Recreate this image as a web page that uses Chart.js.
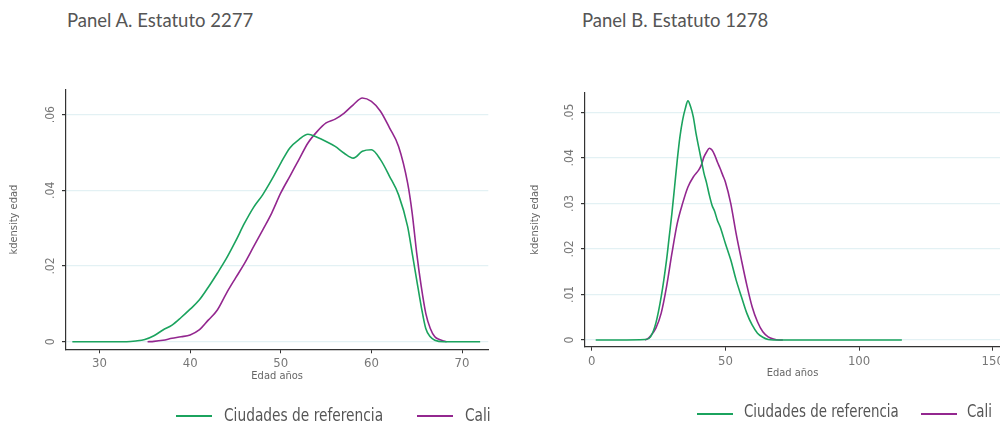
<!DOCTYPE html>
<html>
<head>
<meta charset="utf-8">
<script src="https://cdn.jsdelivr.net/npm/chart.js@4/dist/chart.umd.min.js"></script>
<style>
  body { margin: 0; background: #fff; }
  #wrap { position: relative; width: 1000px; height: 423px; overflow: hidden; }
  .cv { position: absolute; top: 0; }
  .title { position: absolute; top: 9px; font: 18.5px Lato, 'Noto Sans', sans-serif; color: #555; white-space: nowrap; }
  .leg-line { position: absolute; height: 2px; }
  .leg-text { position: absolute; font-family: 'Liberation Sans Narrow', 'DejaVu Sans Condensed', Roboto, sans-serif; color: #555; white-space: nowrap; line-height: 1; transform-origin: 0 0; }
</style>
</head>
<body>
<div id="wrap">
  <div class="title" style="left:67px">Panel A. Estatuto 2277</div>
  <div class="title" style="left:582px">Panel B. Estatuto 1278</div>
  <canvas id="chartA" class="cv" width="500" height="423" style="left:0"></canvas>
  <canvas id="chartB" class="cv" width="500" height="423" style="left:500px"></canvas>

  <div class="leg-line" style="left:176px;top:415px;width:36px;background:#1ba35e"></div>
  <div class="leg-text" style="left:224px;top:406px;font-size:18px;transform:scaleX(0.85)">Ciudades de referencia</div>
  <div class="leg-line" style="left:417px;top:415px;width:36px;background:#93278f"></div>
  <div class="leg-text" style="left:465px;top:406px;font-size:18px;transform:scaleX(0.85)">Cali</div>

  <div class="leg-line" style="left:697px;top:413px;width:36px;background:#1ba35e"></div>
  <div class="leg-text" style="left:744px;top:403px;font-size:17.5px;transform:scaleX(0.85)">Ciudades de referencia</div>
  <div class="leg-line" style="left:921px;top:413px;width:36px;background:#93278f"></div>
  <div class="leg-text" style="left:967px;top:403px;font-size:17.5px;transform:scaleX(0.85)">Cali</div>
</div>
<script>
// --- Data ---
const seriesNames = ['Ciudades de referencia', 'Cali'];

// Panel A. Estatuto 2277
const ageA_ref = [27, 29, 31, 33, 34, 35, 36, 37, 38, 39, 40, 41, 42, 43, 44, 45, 46, 47, 48, 49, 50,
  51, 52, 53, 54, 55, 56, 57, 58, 59, 60, 61, 62, 63, 64, 64.5, 65, 65.5, 66, 66.5, 67, 68, 70, 72];
const denA_ref = [0, 0, 0, 0, 0.0002, 0.0006, 0.0016, 0.0031, 0.0044, 0.0064, 0.0086, 0.011, 0.0144, 0.0181,
  0.022, 0.0265, 0.0313, 0.0355, 0.0388, 0.0428, 0.0472, 0.0512, 0.0534, 0.0548, 0.054, 0.0529, 0.0516,
  0.0498, 0.0485, 0.0503, 0.0507, 0.0481, 0.0437, 0.0388, 0.0304, 0.0234, 0.0163, 0.0093, 0.0035, 0.0013,
  0.0004, 0, 0, 0];
const ageA_cali = [35.3, 36, 37, 38, 39, 40, 41, 42, 43, 44, 45, 46, 47, 48, 49, 50, 51, 52, 53, 54, 55,
  56, 57, 58, 59, 60, 61, 62, 63, 64, 64.5, 65, 65.5, 66, 66.5, 67, 67.5, 68, 68.3];
const denA_cali = [0, 0.0001, 0.0004, 0.0009, 0.0013, 0.0018, 0.0031, 0.0057, 0.0084, 0.0128, 0.0168,
  0.0207, 0.0251, 0.0295, 0.034, 0.0393, 0.0437, 0.0481, 0.0525, 0.0555, 0.0578, 0.0588, 0.0604, 0.0626,
  0.0644, 0.0635, 0.0609, 0.0565, 0.0516, 0.0419, 0.034, 0.0234, 0.0146, 0.0075, 0.0035, 0.0013, 0.0006,
  0.0002, 0];

// Panel B. Estatuto 1278
const ageB_ref = [1.5, 10, 20, 22, 24, 26, 28, 29, 30, 31, 32, 33, 34, 35, 36, 37, 38, 39, 40, 41, 42,
  43, 44, 45, 46, 47, 48, 50, 52, 54, 56, 58, 60, 62, 64, 66, 68, 90, 116];
const denB_ref = [0, 0, 0.0001, 0.0007, 0.0037, 0.0095, 0.0176, 0.0227, 0.0278, 0.0336, 0.0395, 0.0446,
  0.0483, 0.0508, 0.0525, 0.0512, 0.049, 0.0454, 0.0424, 0.0395, 0.0366, 0.0344, 0.0318, 0.0296, 0.0282,
  0.0263, 0.0249, 0.0212, 0.0176, 0.0132, 0.0095, 0.0059, 0.0033, 0.0015, 0.0006, 0.0001, 0, 0, 0];
const ageB_cali = [20, 21, 22, 24, 26, 28, 30, 32, 34, 36, 38, 40, 41, 42, 43, 44, 45, 46, 47, 48, 49,
  50, 52, 54, 56, 58, 60, 62, 64, 66, 68, 70, 71.5];
const denB_cali = [0, 0.0003, 0.0009, 0.0026, 0.0059, 0.0117, 0.019, 0.0256, 0.03, 0.0336, 0.0358,
  0.0373, 0.0384, 0.0402, 0.0413, 0.0421, 0.0417, 0.0406, 0.0391, 0.0377, 0.0362, 0.0347, 0.03, 0.0234,
  0.0176, 0.0121, 0.0073, 0.004, 0.0018, 0.0007, 0.0002, 0, 0];

// --- Styling ---
const GREEN = '#1ba35e';
const PURPLE = '#93278f';
const NARROW = "'Liberation Sans Narrow', 'DejaVu Sans Condensed', Roboto, sans-serif";

const toPoints = (xs, ys) => xs.map((x, i) => ({ x: x, y: ys[i] }));

function fmtY(v) {
  if (Math.abs(v) < 1e-9) return '0';
  return (Math.round(v * 100) / 100).toFixed(2).replace(/^0/, '');
}

function makeChart(canvas, cfg) {
  return new Chart(canvas, {
    type: 'line',
    data: {
      datasets: [
        { label: seriesNames[0], data: toPoints(cfg.refX, cfg.refY), borderColor: GREEN },
        { label: seriesNames[1], data: toPoints(cfg.caliX, cfg.caliY), borderColor: PURPLE }
      ]
    },
    options: {
      responsive: false,
      animation: false,
      elements: {
        point: { radius: 0 },
        line: { borderWidth: 1.6, cubicInterpolationMode: 'monotone' }
      },
      layout: { padding: cfg.padding },
      plugins: { legend: { display: false }, tooltip: { enabled: false } },
      scales: {
        x: {
          type: 'linear',
          min: cfg.xMin, max: cfg.xMax,
          ticks: {
            stepSize: cfg.xStep, includeBounds: false, maxRotation: 0,
            color: '#777', font: { family: NARROW, size: 13 }, padding: 3
          },
          grid: { drawOnChartArea: false, tickColor: '#333', tickLength: 4 },
          border: { color: '#333', width: 1.2 },
          title: {
            display: true, text: 'Edad años', color: '#666',
            font: { family: NARROW, size: 11 }, padding: { top: 0, bottom: 7 }
          },
          afterFit: (s) => { s.height = 40; s.paddingLeft = 0; s.paddingRight = 0; }
        },
        y: {
          min: cfg.yMin, max: cfg.yMax,
          ticks: {
            stepSize: cfg.yStep, includeBounds: false, minRotation: 90, maxRotation: 90,
            crossAlign: 'center', padding: 3,
            color: '#777', font: { family: NARROW, size: 12 },
            callback: (v) => fmtY(v)
          },
          grid: { color: '#e3f1f4', lineWidth: 1.2, tickColor: '#333', tickLength: 4 },
          border: { color: '#333', width: 1.2 },
          title: {
            display: true, text: 'kdensity edad', color: '#666',
            font: { family: NARROW, size: 11 }, padding: { top: cfg.yTitlePad, bottom: 0 }
          },
          afterFit: (s) => { s.width = cfg.yWidth; s.paddingTop = 0; s.paddingBottom = 0; }
        }
      }
    }
  });
}

makeChart(document.getElementById('chartA'), {
  refX: ageA_ref, refY: denA_ref, caliX: ageA_cali, caliY: denA_cali,
  xMin: 26.3, xMax: 72.9, xStep: 10,
  yMin: -0.002, yMax: 0.0665, yStep: 0.02,
  yWidth: 66, yTitlePad: 8,
  padding: { left: 0, right: 11.7, top: 90, bottom: 33.7 }
});

makeChart(document.getElementById('chartB'), {
  refX: ageB_ref, refY: denB_ref, caliX: ageB_cali, caliY: denB_cali,
  xMin: -2.5, xMax: 152.7, xStep: 50,
  yMin: -0.00147, yMax: 0.0543, yStep: 0.01,
  yWidth: 85, yTitlePad: 29,
  padding: { left: 0, right: 0, top: 92.7, bottom: 36.3 }
});
</script>
</body>
</html>
